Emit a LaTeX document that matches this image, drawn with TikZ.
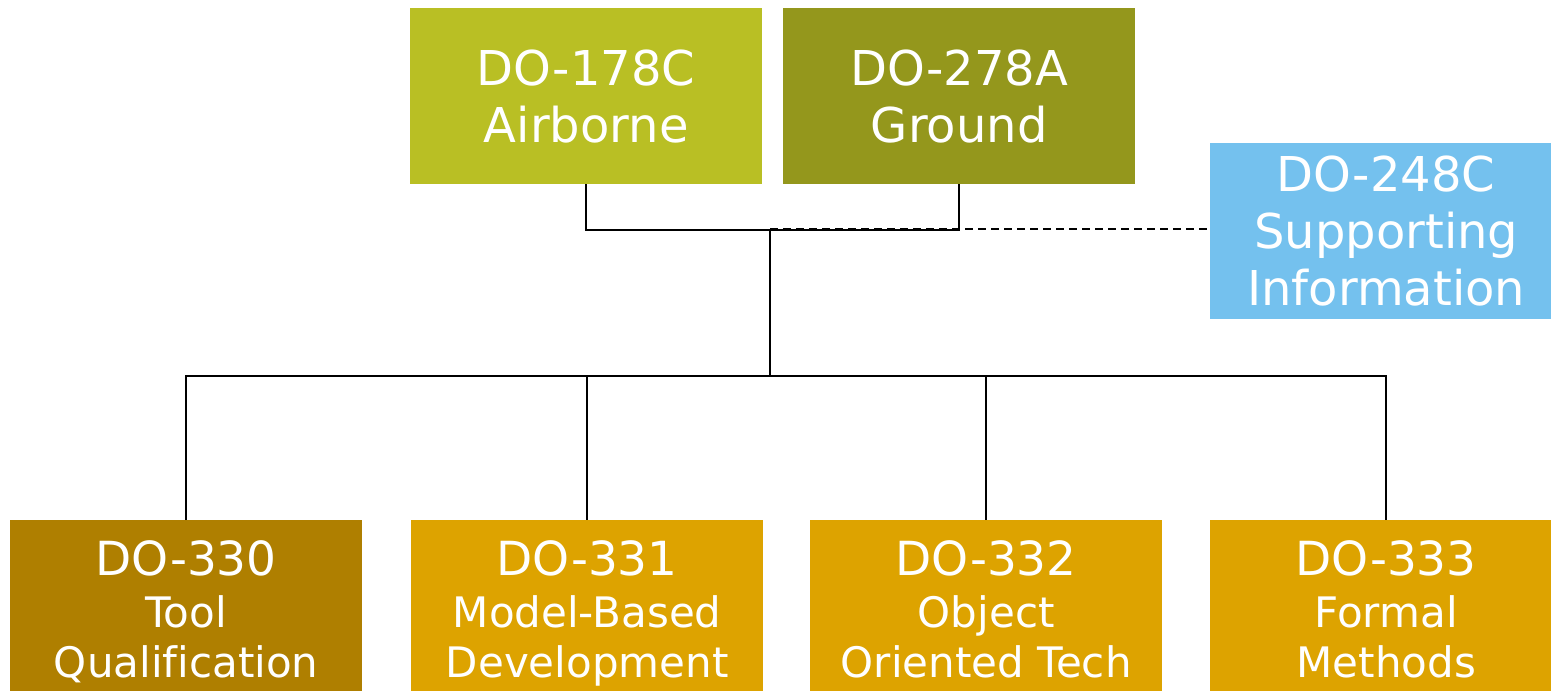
\documentclass[tikz,border=0pt]{standalone}
\usepackage{fontspec}
\setmainfont[Ligatures=NoCommon]{DejaVu Sans}
\definecolor{cAir}{HTML}{B9BF24}
\definecolor{cGnd}{HTML}{94971C}
\definecolor{cSup}{HTML}{74C1EE}
\definecolor{cTool}{HTML}{AF7F00}
\definecolor{cSupp}{HTML}{DDA300}
\newcommand{\hdline}[1]{{\fontsize{47}{50}\selectfont\rule{0pt}{42pt}#1}}
\begin{document}
\begin{tikzpicture}[x=1pt,y=-1pt,
  box/.style={draw=none,text=white,inner sep=0pt,anchor=north west,
    minimum width=352pt,minimum height=176pt,align=center,
    font=\fontsize{48}{57}\selectfont},
  lowbox/.style={box,minimum height=171pt,text depth=0pt,
    font=\fontsize{42}{50}\selectfont},
  conn/.style={draw=black,line width=2pt},
  supconn/.style={draw=black,line width=2pt,dash pattern=on 8pt off 5pt}]
\clip (0,0) rectangle (1551,691);
\fill[white] (0,0) rectangle (1551,691);
% top row
\node[box,fill=cAir] (b178) at (410,8) {DO-178C\\Airborne};
\node[box,fill=cGnd] (b278) at (783,8) {DO-278A\\Ground};
\node[box,fill=cSup] (b248) at (1210,143) {DO-248C\\Supporting\\Information};
% bottom row
\node[lowbox,fill=cTool] (b330) at (10,520) {\hdline{DO-330}\\[2pt]Tool\\Qualification};
\node[lowbox,fill=cSupp] (b331) at (411,520) {\hdline{DO-331}\\[2pt]Model-Based\\Development};
\node[lowbox,fill=cSupp] (b332) at (810,520) {\hdline{DO-332}\\[2pt]Object\\Oriented Tech};
\node[lowbox,fill=cSupp] (b333) at (1210,520) {\hdline{DO-333}\\[2pt]Formal\\Methods};
% junctions
\coordinate (tb) at (770,230);
\coordinate (bb) at (770,376);
% connectors
\draw[conn] (b178.south) |- (tb) -| (b278.south);
\draw[conn] (tb) -- (bb);
\draw[supconn] ([yshift=1pt]tb) -- ([yshift=1pt]tb -| b248.west);
\draw[conn] (bb) -| (b330.north);
\draw[conn] (bb) -| (b331.north);
\draw[conn] (bb) -| (b332.north);
\draw[conn] (bb) -| (b333.north);
\end{tikzpicture}
\end{document}
